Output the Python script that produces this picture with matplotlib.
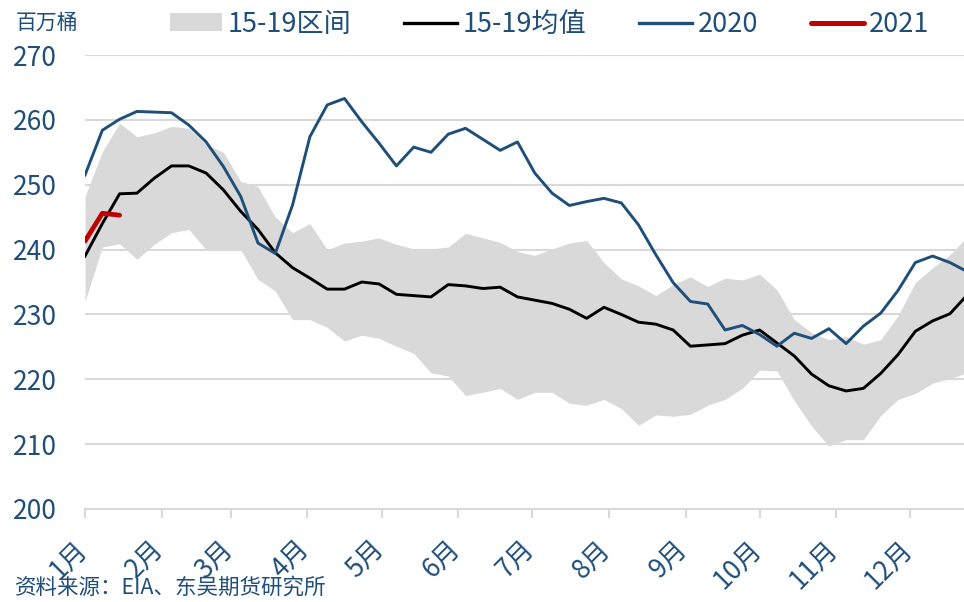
import numpy as np
import matplotlib
matplotlib.use('Agg')
import matplotlib.pyplot as plt
import matplotlib.transforms as mtransforms
from matplotlib.patches import Patch
from matplotlib.lines import Line2D

plt.rcParams['font.family'] = ['Noto Sans CJK SC', 'DejaVu Sans']

# 周度数据（第0周 = 1月初）
weeks = np.arange(52)

band_low = [232.0, 240.4, 240.9, 238.5, 240.8, 242.6, 243.1, 240.0, 240.0, 240.0,
            235.4, 233.6, 229.2, 229.2, 228.0, 225.9, 226.8, 226.3, 225.1, 224.0,
            221.0, 220.5, 217.5, 218.0, 218.6, 216.9, 218.0, 218.0, 216.3, 216.0,
            216.9, 215.5, 212.9, 214.5, 214.3, 214.6, 216.0, 216.9, 218.6, 221.4,
            221.3, 216.7, 212.8, 209.7, 210.7, 210.7, 214.4, 216.9, 217.8, 219.4,
            220.1, 221.0]
band_high = [248.2, 255.1, 259.5, 257.4, 258.0, 259.0, 258.7, 256.2, 255.0, 250.5,
             249.7, 245.0, 242.6, 244.0, 240.0, 241.0, 241.3, 241.8, 240.8, 240.1,
             240.1, 240.4, 242.5, 241.8, 241.1, 239.7, 239.1, 240.1, 241.0, 241.4,
             238.0, 235.5, 234.4, 232.9, 234.6, 235.8, 234.3, 235.6, 235.3, 236.2,
             233.8, 229.2, 227.2, 226.1, 226.6, 225.4, 226.1, 229.8, 234.9, 237.2,
             239.2, 242.0]
avg_15_19 = [239.0, 244.0, 248.6, 248.7, 251.0, 252.9, 252.9, 251.8, 249.2, 245.9,
             243.1, 239.5, 237.2, 235.6, 233.9, 233.9, 235.0, 234.7, 233.1, 232.9,
             232.7, 234.6, 234.4, 234.0, 234.2, 232.7, 232.2, 231.7, 230.8, 229.4,
             231.1, 230.0, 228.8, 228.5, 227.6, 225.1, 225.3, 225.5, 226.8, 227.6,
             225.6, 223.6, 220.8, 219.0, 218.2, 218.6, 220.9, 223.8, 227.4, 229.0,
             230.1, 233.0]
y2020 = [251.5, 258.4, 260.1, 261.3, 261.2, 261.1, 259.2, 256.6, 252.8, 248.2,
         241.0, 239.4, 246.9, 257.4, 262.3, 263.3, 259.7, 256.4, 252.9, 255.8,
         255.0, 257.8, 258.7, 257.0, 255.3, 256.6, 251.8, 248.7, 246.8, 247.4,
         247.9, 247.2, 243.8, 239.2, 234.9, 232.0, 231.6, 227.6, 228.3, 226.9,
         225.1, 227.1, 226.3, 227.8, 225.5, 228.2, 230.2, 233.7, 238.0, 239.0,
         238.0, 236.6]
y2021 = [241.3, 245.6, 245.3]

month_labels = ['1月', '2月', '3月', '4月', '5月', '6月',
                '7月', '8月', '9月', '10月', '11月', '12月']
month_starts = [0, 31, 59, 90, 120, 151, 181, 212, 243, 273, 304, 334]

TXT = '#1f4e79'
GRID = '#d9d9d9'

days = weeks * 7

fig = plt.figure(figsize=(9.64, 6.02), dpi=100, facecolor='white')
ax = fig.add_axes([0.0882, 0.1545, 0.9118, 0.7541])

ax.fill_between(days, band_low, band_high, color='#d9d9d9', lw=0, zorder=2)
ax.plot(days, avg_15_19, color='black', lw=2.1, zorder=3)
ax.plot(days, y2020, color='#1f4e79', lw=2.1, zorder=4)
ax.plot(days[:len(y2021)], y2021, color='#c00000', lw=3.4,
        solid_capstyle='round', zorder=5)

ax.set_xlim(0, 355.7)
ax.set_ylim(200, 270)
ax.set_yticks(np.arange(200, 271, 10))
ax.set_axisbelow(True)
ax.yaxis.grid(True, color=GRID, lw=1.5)

for s in ['top', 'right', 'left']:
    ax.spines[s].set_visible(False)
ax.spines['bottom'].set_color(GRID)
ax.spines['bottom'].set_linewidth(1.5)

ax.set_xticks(month_starts)
ax.set_xticklabels(month_labels, rotation=45, ha='right', va='top')
ax.tick_params(axis='x', direction='out', length=6.5, width=1.5, color=GRID,
               labelsize=19, labelcolor=TXT, pad=13)
ax.tick_params(axis='y', length=0, labelsize=19, labelcolor=TXT, pad=20)

# 月份标签略向右移
shift = mtransforms.ScaledTranslation(0.08, 0, fig.dpi_scale_trans)
for lbl in ax.get_xticklabels():
    lbl.set_transform(lbl.get_transform() + shift)

fig.text(0.016, 0.962, '百万桶', fontsize=15, color=TXT, va='center', ha='left')
fig.text(0.016, 0.024, '资料来源：EIA、东吴期货研究所', fontsize=15.5, color=TXT,
         va='center', ha='left', style='italic')

handles = [Patch(facecolor='#d9d9d9', edgecolor='none'),
           Line2D([], [], color='black', lw=2.4),
           Line2D([], [], color='#1f4e79', lw=2.4),
           Line2D([], [], color='#c00000', lw=3.6, solid_capstyle='round')]
labels = ['15-19区间', '15-19均值', '2020', '2021']
fig.legend(handles, labels, loc='center', bbox_to_anchor=(0.570, 0.96), ncol=4,
           frameon=False, fontsize=19.5, labelcolor=TXT, handlelength=1.95,
           handleheight=0.6, handletextpad=0.2, columnspacing=1.95,
           borderpad=0, borderaxespad=0)

fig.savefig('out.png', dpi=100, facecolor='white')
